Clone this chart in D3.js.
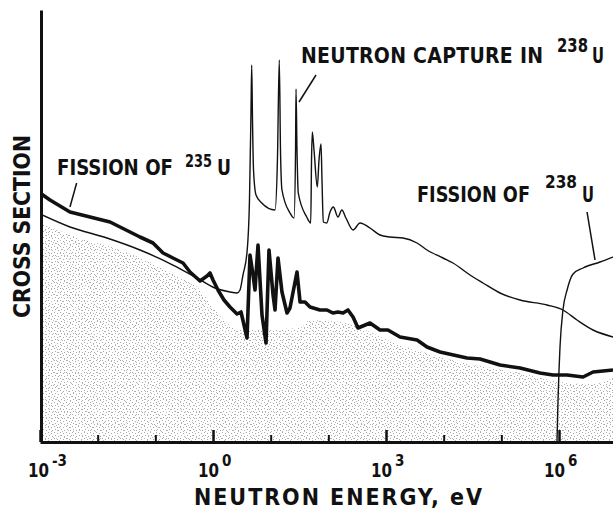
<!DOCTYPE html>
<html>
<head>
    <meta charset="UTF-8" />
    <script src="https://cdn.jsdelivr.net/npm/d3@7"></script>
    <style>
        body { margin: 0; background: #fff; }
        svg { display: block; }
        text {
            font-family: "Liberation Sans Narrow", "DejaVu Sans Condensed", "Liberation Sans", sans-serif;
            font-weight: bold;
            fill: #111;
        }
    </style>
</head>
<body>
    <div id="chart"></div>
    <script>
        // energies in eV, cross section in arbitrary units (no scale on the original)
        const fission235 = [
            [1e-3, 24.8], [1.49e-3, 24.1], [3.31e-3, 22.9], [7.36e-3, 22.4], [1.64e-2, 21.9], [2.44e-2, 21.4],
            [5.42e-2, 20.4], [9.11e-2, 19.8], [0.136, 18.8], [0.202, 18.3], [0.302, 17.8], [0.399, 16.9],
            [0.596, 16.0], [0.787, 16.5], [0.887, 16.8], [1.0, 16.1], [1.22, 15.1], [1.55, 14.1], [1.97, 13.4],
            [2.61, 12.7], [3.06, 12.9], [3.89, 10.3], [4.38, 18.6], [4.94, 16.6], [5.35, 15.1], [6.03, 19.6],
            [7.07, 12.6], [8.30, 9.8], [9.35, 19.1], [11.0, 14.6], [11.9, 13.1], [13.4, 18.3], [15.7, 14.9],
            [19.2, 12.8], [21.6, 13.3], [28.6, 16.9], [32.3, 13.9], [39.4, 13.9], [48.1, 13.4], [71.6, 13.1],
            [94.8, 13.1], [120, 12.8], [147, 12.9], [180, 12.8], [219, 13.1], [268, 12.4], [327, 11.3],
            [528, 11.8], [787, 11.1], [1080, 11.1], [1750, 10.4], [3450, 10.1], [5140, 9.4], [8630, 8.9],
            [2.54e4, 8.3], [4.27e4, 8.2], [9.48e4, 7.6], [2.11e5, 7.3], [4.68e5, 6.8], [7.87e5, 6.6],
            [1.38e6, 6.6], [2.61e6, 6.4], [3.89e6, 6.9], [8.63e6, 7.1]
        ]
        const capture238 = [
            [1e-3, 22.7], [3.31e-3, 21.4], [1.45e-2, 20.3], [5.42e-2, 19.1], [0.202, 17.6], [0.528, 16.3],
            [1.08, 15.3], [1.97, 14.9], [2.61, 14.8], [2.94, 15.1], [3.31, 16.6], [3.89, 18.9], [4.29, 24.1],
            [4.56, 33.1], [4.69, 37.6], [4.84, 32.1], [5.04, 27.1], [5.57, 24.6], [7.0, 23.8], [11.9, 23.1],
            [13.1, 28.1], [14.1, 38.1], [14.8, 29.1], [15.7, 25.1], [21.6, 22.8], [25.4, 22.3], [27.0, 29.1],
            [27.5, 35.2], [28.6, 29.1], [30.1, 24.8], [42.2, 22.4], [49.5, 21.8], [51.1, 28.1], [52.7, 30.9],
            [56.4, 29.1], [64.4, 25.4], [68.9, 28.1], [74.6, 29.7], [77.6, 26.1], [81.8, 21.9], [93.7, 21.8],
            [107, 22.9], [122, 23.4], [147, 22.4], [171, 23.1], [202, 22.3], [268, 21.1], [354, 21.8],
            [528, 21.3], [787, 20.6], [1170, 20.4], [1970, 20.3], [3450, 19.8], [5140, 19.1], [9730, 18.3],
            [1.45e4, 17.8], [2.86e4, 16.6], [4.81e4, 15.8], [9.48e4, 14.8], [2.11e5, 14.1], [6.19e5, 13.6],
            [1.17e6, 13.1], [2.05e6, 12.1], [3.89e6, 11.1], [8.63e6, 10.4]
        ]
        const fission238 = [
            [9.23e5, 0], [9.42e5, 2.1], [9.61e5, 4.1], [1.0e6, 7.1], [1.04e6, 9.4], [1.17e6, 13.1],
            [1.38e6, 15.1], [1.75e6, 16.7], [2.61e6, 17.3], [5.14e6, 17.9], [8.63e6, 18.4]
        ]
        // top edge of the stippled area
        const shadeEdge = [
            [1e-3, 21.9], [3.31e-3, 20.6], [2.44e-2, 19.1], [0.180, 16.9], [0.596, 15.1], [1.08, 13.1],
            [2.94, 11.1], [32.3, 11.3], [48.1, 12.1], [159, 11.9], [1750, 9.6], [1.92e4, 7.9],
            [2.11e5, 6.8], [1.04e6, 5.9], [3.45e6, 5.7], [8.63e6, 6.3]
        ]
        const decades = [1e-3, 1e-2, 1e-1, 1e0, 1e1, 1e2, 1e3, 1e4, 1e5, 1e6]
        const labelExps = [-3, 0, 3, 6]
        // pointer lines: [from, to] in [eV, value]
        const pointers = [
            [[4.32e-3, 25.8], [3.31e-3, 23.4]],
            [[61.1, 36.6], [31.0, 33.9]],
            [[3.06e6, 22.9], [4.21e6, 18.1]]
        ]

        const W = 613, H = 510
        const x = d3.scaleLog().domain([1e-3, 8.63e6]).range([40, 613])
        const y = d3.scaleLinear().domain([0, 43.1]).range([441, 10])

        const svg = d3.select('#chart').append('svg').attr('width', W).attr('height', H)
        const defs = svg.append('defs')
        defs.append('clipPath').attr('id', 'plot')
            .append('rect').attr('x', 40).attr('y', 0).attr('width', 573).attr('height', 442)

        // two dot patterns with different periods give the blotchy halftone look
        const pA = defs.append('pattern').attr('id', 'dotsA').attr('patternUnits', 'userSpaceOnUse')
            .attr('width', 6).attr('height', 6)
        ;[[0, 0], [3, 1], [1, 3], [4, 4]].forEach(p => {
            pA.append('rect').attr('x', p[0]).attr('y', p[1]).attr('width', 1).attr('height', 1).attr('fill', '#a8a8a8')
        })
        const pB = defs.append('pattern').attr('id', 'dotsB').attr('patternUnits', 'userSpaceOnUse')
            .attr('width', 11).attr('height', 13)
        ;[[2, 1], [7, 2], [5, 6], [9, 8], [1, 9], [4, 11]].forEach(p => {
            pB.append('rect').attr('x', p[0]).attr('y', p[1]).attr('width', 1).attr('height', 1).attr('fill', '#b8b8b8')
        })

        const plot = svg.append('g').attr('clip-path', 'url(#plot)')

        const area = d3.area()
            .x(d => x(d[0]))
            .y0(y(0))
            .y1(d => y(d[1]))
            .curve(d3.curveMonotoneX)
        plot.append('path').datum(shadeEdge).attr('d', area).attr('fill', 'url(#dotsA)')
        plot.append('path').datum(shadeEdge).attr('d', area).attr('fill', 'url(#dotsB)')

        const line = d3.line()
            .x(d => x(d[0]))
            .y(d => y(d[1]))
            .curve(d3.curveMonotoneX)

        plot.append('path').datum(capture238).attr('d', line)
            .attr('fill', 'none').attr('stroke', '#111').attr('stroke-width', 1.4)
        plot.append('path').datum(fission238).attr('d', line)
            .attr('fill', 'none').attr('stroke', '#111').attr('stroke-width', 1.4)
        plot.append('path').datum(fission235).attr('d', line.curve(d3.curveLinear))
            .attr('fill', 'none').attr('stroke', '#111').attr('stroke-width', 3.6)
            .attr('stroke-linejoin', 'round')

        // pointers from labels to curves
        svg.selectAll('.pointer').data(pointers).join('line')
            .attr('class', 'pointer')
            .attr('x1', d => x(d[0][0])).attr('y1', d => y(d[0][1]))
            .attr('x2', d => x(d[1][0])).attr('y2', d => y(d[1][1]))
            .attr('stroke', '#111').attr('stroke-width', 1.5)

        // axes
        const ax = d3.axisBottom(x).tickValues(decades).tickFormat('').tickSizeInner(-7).tickSizeOuter(0)
        const gx = svg.append('g').attr('transform', 'translate(0,442)').call(ax)
        gx.select('.domain').attr('stroke', '#111').attr('stroke-width', 3)
        gx.selectAll('.tick line').attr('stroke', '#111').attr('stroke-width', 2)
            .filter(d => labelExps.includes(Math.round(Math.log10(d))))
            .attr('y2', -12).attr('stroke-width', 2.5)

        const gy = svg.append('g').attr('transform', 'translate(41,0)')
            .call(d3.axisLeft(y).tickValues([]).tickSizeOuter(0))
        gy.select('.domain').attr('stroke', '#111').attr('stroke-width', 3)

        function fit(t, w) {
            const n = t.node().getComputedTextLength()
            t.attr('textLength', w).attr('lengthAdjust', n < w ? 'spacing' : 'spacingAndGlyphs')
            return t
        }

        labelExps.forEach(e => {
            const tx = x(Math.pow(10, e))
            const off = e === -3 ? 10 : 7
            fit(svg.append('text').attr('x', tx + off - 22).attr('y', 477)
                .style('font-size', '19px').text('10'), 21)
            svg.append('text').attr('x', tx + off + 2).attr('y', 466)
                .style('font-size', '15px').text(e === -3 ? '-3' : String(e))
        })

        // axis titles
        fit(svg.append('text').attr('x', 194).attr('y', 505)
            .style('font-size', '23px').text('NEUTRON ENERGY, eV'), 288)
        fit(svg.append('text').attr('transform', 'translate(30,318) rotate(-90)')
            .style('font-size', '23px').text('CROSS SECTION'), 183)

        // curve labels
        function label(px, py, main, mw, sup, sx, sw, ssize, rise, ux, uw) {
            fit(svg.append('text').attr('x', px).attr('y', py).style('font-size', '21px').text(main), mw)
            fit(svg.append('text').attr('x', sx).attr('y', py - rise).style('font-size', ssize + 'px').text(sup), sw)
            fit(svg.append('text').attr('x', ux).attr('y', py).style('font-size', '21px').text('U'), uw)
        }
        label(57, 175, 'FISSION OF', 116, '235', 185, 27, 17, 8, 217, 14)
        label(301, 63, 'NEUTRON CAPTURE IN', 242, '238', 557, 31, 19, 11, 592, 12)
        label(417, 202, 'FISSION OF', 113, '238', 545, 32, 18, 14, 582, 12)
    </script>
</body>
</html>
